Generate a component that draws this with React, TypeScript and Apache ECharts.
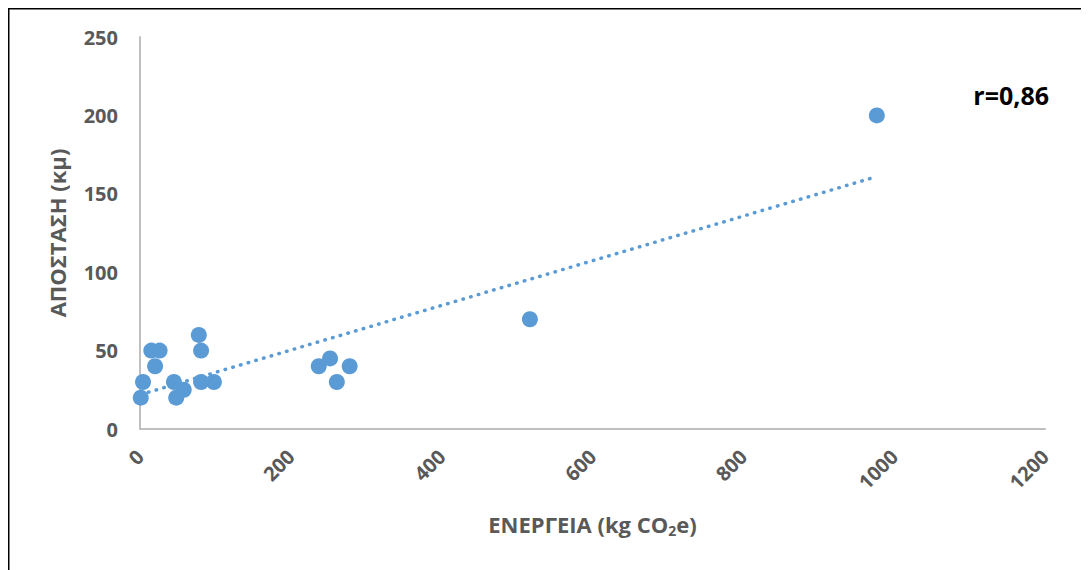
import React, { useEffect, useRef } from "react";
import * as echarts from "echarts";

const energyX = [1, 4, 15, 20, 26, 45, 48, 58, 78, 81, 81, 98, 237, 252, 261, 278, 517, 977];
const distanceY = [20, 30, 50, 40, 50, 30, 20, 25, 60, 50, 30, 30, 40, 45, 30, 40, 70, 200];
const trendX = [1, 977];
const trendY = [22, 161];
const xTicks = [0, 200, 400, 600, 800, 1000, 1200];
const yTicks = [0, 50, 100, 150, 200, 250];
const rLabel = "r=0,86";

const FONT = "'Open Sans', 'Noto Sans', sans-serif";
const GREY = "#595959";
const BLUE = "#5B9BD5";

export default function App() {
  const ref = useRef<HTMLDivElement>(null);
  useEffect(() => {
    if (!ref.current) return;
    const chart = echarts.init(ref.current, null, { renderer: "svg" });
    chart.setOption({
      animation: false,
      grid: { left: 132, right: 44, top: 29, bottom: 141, containLabel: false },
      xAxis: {
        type: "value",
        min: xTicks[0],
        max: xTicks[xTicks.length - 1],
        interval: 200,
        splitLine: { show: false },
        axisTick: { show: false },
        axisLine: { show: true, lineStyle: { color: "#BFBFBF", width: 2 } },
        axisLabel: {
          rotate: 45,
          margin: 24,
          color: GREY,
          fontFamily: FONT,
          fontWeight: "bold",
          fontSize: 20,
          formatter: (v: number) => String(v),
        },
        name: "{a|ΕΝΕΡΓΕΙΑ (kg CO}{s|2}{a|e)}",
        nameLocation: "middle",
        nameGap: 82,
        nameTextStyle: {
          rich: {
            a: { color: GREY, fontFamily: FONT, fontWeight: "bold", fontSize: 22 },
            s: { color: GREY, fontFamily: FONT, fontWeight: "bold", fontSize: 14, padding: [12, 0, 0, 0] },
          },
        },
      },
      yAxis: {
        type: "value",
        min: yTicks[0],
        max: yTicks[yTicks.length - 1],
        interval: 50,
        splitLine: { show: false },
        axisTick: { show: false },
        axisLine: { show: true, lineStyle: { color: "#BFBFBF", width: 2 } },
        axisLabel: {
          margin: 22,
          color: GREY,
          fontFamily: FONT,
          fontWeight: "bold",
          fontSize: 20,
        },
        name: "ΑΠΟΣΤΑΣΗ (κμ)",
        nameLocation: "middle",
        nameGap: 72,
        nameTextStyle: { color: GREY, fontFamily: FONT, fontWeight: "bold", fontSize: 22 },
      },
      graphic: [
        { type: "line", shape: { x1: 0, y1: 0, x2: 1081, y2: 0 }, style: { stroke: "#000", lineWidth: 3 } },
        { type: "line", shape: { x1: 0, y1: 0, x2: 0, y2: 562 }, style: { stroke: "#000", lineWidth: 3 } },
        {
          type: "text",
          x: 1041,
          y: 87,
          style: {
            text: rLabel,
            fill: "#000",
            font: `bold 25px ${FONT}`,
            align: "right",
            verticalAlign: "middle",
          },
        },
      ],
      series: [
        {
          type: "scatter",
          data: energyX.map((x, i) => [x, distanceY[i]]),
          symbolSize: 16,
          itemStyle: { color: BLUE, opacity: 1 },
          z: 2,
        },
        {
          type: "line",
          data: trendX.map((x, i) => [x, trendY[i]]),
          symbol: "none",
          lineStyle: { color: BLUE, width: 3.5, type: [0.5, 7.5], cap: "round" },
          z: 3,
        },
      ],
    });
    return () => chart.dispose();
  }, []);
  return <div ref={ref} style={{ width: 1081, height: 562 }} />;
}
